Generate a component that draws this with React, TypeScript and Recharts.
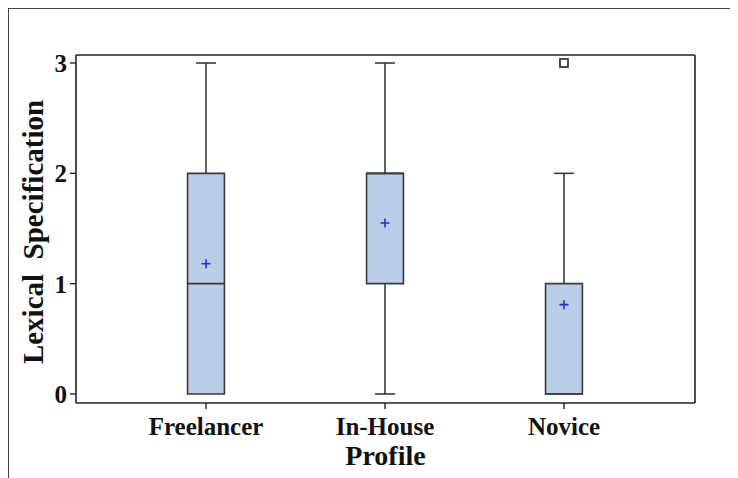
import React from 'react';
import {
  ComposedChart,
  XAxis,
  YAxis,
  Scatter,
  ReferenceArea,
  ReferenceLine,
} from 'recharts';

// ---- data ----
const categories = ['Freelancer', 'In-House', 'Novice'];
const mins = [0, 0, 0];
const q1s = [0, 1, 0];
const medians = [1, 2, 0];
const q3s = [2, 2, 1];
const maxs = [3, 3, 2];
const means = [1.18, 1.55, 0.81];
const outliers = [{ cat: 3, value: 3 }];
const yTicks = [0, 1, 2, 3];

// ---- style ----
const FONT = '"Liberation Serif", "DejaVu Serif", serif';
const BOX_FILL = '#b9cee6';
const LINE = '#3a3a3a';
const MEAN_COLOR = '#2a2ad6';
const BOX_HALF = 0.103;
const CAP_HALF = 0.056;
const X_DOMAIN: [number, number] = [0.2737, 3.732];
const Y_DOMAIN: [number, number] = [-0.0816, 3.0725];

const meanData = means.map((m, i) => ({ x: i + 1, y: m }));
const outlierData = outliers.map((o) => ({ x: o.cat, y: o.value }));

const PlusShape = (props: any) => {
  const { cx, cy } = props;
  if (cx == null || cy == null) return null;
  return (
    <path
      d={`M${cx - 4.5},${cy}H${cx + 4.5}M${cx},${cy - 4.5}V${cy + 4.5}`}
      stroke={MEAN_COLOR}
      strokeWidth={1.6}
      fill="none"
    />
  );
};

const SquareShape = (props: any) => {
  const { cx, cy } = props;
  if (cx == null || cy == null) return null;
  return (
    <rect x={cx - 4} y={cy - 4} width={8} height={8} fill="#fff" stroke={LINE} strokeWidth={1.8} />
  );
};

export default function App() {
  const whiskers: any[] = [];
  categories.forEach((_, i) => {
    const x = i + 1;
    if (maxs[i] > q3s[i]) {
      whiskers.push(
        <ReferenceLine key={`wu${i}`} segment={[{ x, y: q3s[i] }, { x, y: maxs[i] }]} stroke={LINE} strokeWidth={1.6} />,
        <ReferenceLine key={`cu${i}`} segment={[{ x: x - CAP_HALF, y: maxs[i] }, { x: x + CAP_HALF, y: maxs[i] }]} stroke={LINE} strokeWidth={1.6} />
      );
    }
    if (mins[i] < q1s[i]) {
      whiskers.push(
        <ReferenceLine key={`wl${i}`} segment={[{ x, y: mins[i] }, { x, y: q1s[i] }]} stroke={LINE} strokeWidth={1.6} />,
        <ReferenceLine key={`cl${i}`} segment={[{ x: x - CAP_HALF, y: mins[i] }, { x: x + CAP_HALF, y: mins[i] }]} stroke={LINE} strokeWidth={1.6} />
      );
    }
  });

  return (
    <div
      style={{
        width: 730,
        height: 470,
        borderTop: '1.5px solid #444',
        borderLeft: '1.5px solid #444',
        boxSizing: 'border-box',
        overflow: 'hidden',
      }}
    >
      <ComposedChart
        width={729}
        height={469}
        margin={{ top: 46, right: 43, bottom: 0, left: 0 }}
      >
        <XAxis
          type="number"
          dataKey="x"
          domain={X_DOMAIN}
          allowDataOverflow
          ticks={[1, 2, 3]}
          tickFormatter={(v: number) => categories[v - 1] ?? ''}
          height={75}
          axisLine={{ stroke: '#222', strokeWidth: 1.6 }}
          tickLine={{ stroke: '#222', strokeWidth: 1.4 }}
          tickSize={6}
          tickMargin={8}
          tick={{ fill: '#111', fontFamily: FONT, fontWeight: 700, fontSize: 25 }}
          label={{
            value: 'Profile',
            position: 'insideBottom',
            offset: 13,
            fill: '#111',
            fontFamily: FONT,
            fontWeight: 700,
            fontSize: 28,
          }}
        />
        <YAxis
          type="number"
          domain={Y_DOMAIN}
          allowDataOverflow
          ticks={yTicks}
          width={67}
          axisLine={{ stroke: '#222', strokeWidth: 1.6 }}
          tickLine={{ stroke: '#222', strokeWidth: 1.4 }}
          tickSize={6}
          tickMargin={3}
          tick={{ fill: '#111', fontFamily: FONT, fontWeight: 700, fontSize: 25 }}
          label={{
            content: (p: any) => {
              const vb = p.viewBox || { x: 0, y: 0, height: 0 };
              const cx = vb.x + 34;
              const cy = vb.y + vb.height / 2 + 3;
              return (
                <text
                  x={cx}
                  y={cy}
                  transform={`rotate(-90 ${cx} ${cy})`}
                  textAnchor="middle"
                  fill="#111"
                  fontFamily={FONT}
                  fontWeight={700}
                  fontSize={29}
                >
                  {'Lexical\u00a0 Specification'}
                </text>
              );
            },
          }}
        />
        {/* plot frame: top and right edges */}
        <ReferenceLine
          segment={[{ x: X_DOMAIN[0], y: Y_DOMAIN[1] }, { x: X_DOMAIN[1], y: Y_DOMAIN[1] }]}
          stroke="#222"
          strokeWidth={1.6}
          ifOverflow="visible"
        />
        <ReferenceLine
          segment={[{ x: X_DOMAIN[1], y: Y_DOMAIN[0] }, { x: X_DOMAIN[1], y: Y_DOMAIN[1] }]}
          stroke="#222"
          strokeWidth={1.6}
          ifOverflow="visible"
        />
        {whiskers}
        {categories.map((c, i) => (
          <ReferenceArea
            key={`box${c}`}
            x1={i + 1 - BOX_HALF}
            x2={i + 1 + BOX_HALF}
            y1={q1s[i]}
            y2={q3s[i]}
            fill={BOX_FILL}
            fillOpacity={1}
            stroke={LINE}
            strokeWidth={1.6}
          />
        ))}
        {categories.map((c, i) => (
          <ReferenceLine
            key={`med${c}`}
            segment={[
              { x: i + 1 - BOX_HALF, y: medians[i] },
              { x: i + 1 + BOX_HALF, y: medians[i] },
            ]}
            stroke={LINE}
            strokeWidth={1.6}
          />
        ))}
        <Scatter data={meanData} dataKey="y" shape={<PlusShape />} isAnimationActive={false} />
        <Scatter data={outlierData} dataKey="y" shape={<SquareShape />} isAnimationActive={false} />
      </ComposedChart>
    </div>
  );
}
